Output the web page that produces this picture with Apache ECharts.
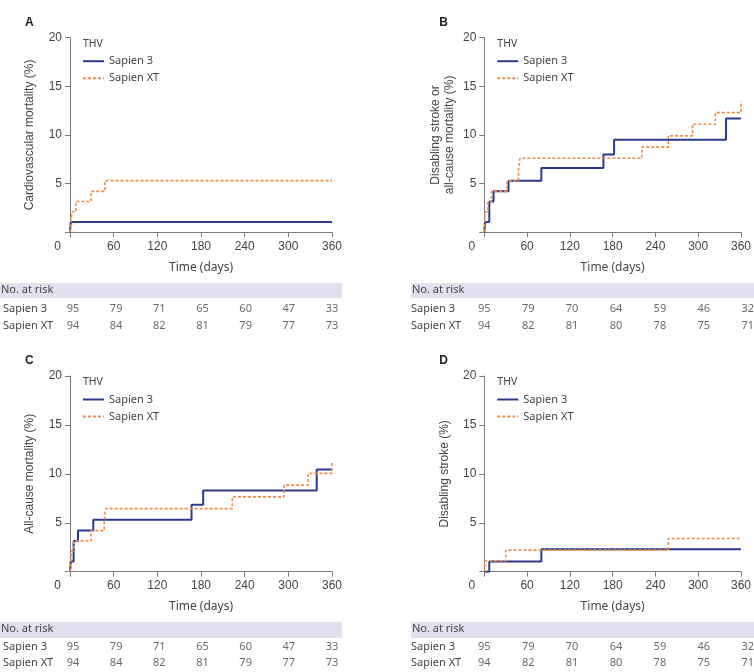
<!DOCTYPE html>
<html>
<head>
<meta charset="utf-8">
<script src="https://cdn.jsdelivr.net/npm/echarts@6/dist/echarts.min.js"></script>
<style>
  html, body { margin: 0; padding: 0; background: #fff; }
  #chart { width: 754px; height: 672px; }
</style>
</head>
<body>
<div id="chart"></div>
<script>
// 数据：时间刻度、组名、各面板的阶梯曲线（事件时间, 累积率 %）
const timeTicks = [0, 60, 120, 180, 240, 300, 360];
const groups = ['Sapien 3', 'Sapien XT'];
const panelLetters = ['A', 'B', 'C', 'D'];
const yNames = [
  'Cardiovascular mortality (%)',
  'Disabling stroke or\nall-cause mortality (%)',
  'All-cause mortality (%)',
  'Disabling stroke (%)'
];

const cvS3 = [[0, 0], [1, 1.05], [360, 1.05]];
const cvXT = [[0, 0], [1, 1.05], [3, 2.1], [8, 3.15], [29, 4.2], [48, 5.3], [360, 5.3]];

const strokeDeathS3 = [[0, 0], [1, 1.05], [7, 3.15], [13, 4.2], [34, 5.3], [80, 6.6], [167, 8.0], [182, 9.5], [339, 11.7], [360, 11.7]];
const strokeDeathXT = [[0, 0], [1, 2.1], [5, 3.15], [10, 4.2], [32, 5.3], [48, 6.4], [50, 7.6], [221, 8.75], [258, 9.9], [292, 11.1], [324, 12.3], [360, 13.5]];

const deathS3 = [[0, 0], [1, 1.05], [5, 3.15], [11, 4.2], [32, 5.3], [167, 6.85], [183, 8.3], [339, 10.45], [360, 10.45]];
const deathXT = [[0, 0], [1, 1.05], [2, 2.1], [5, 3.15], [29, 4.2], [47, 5.3], [49, 6.45], [223, 7.65], [294, 8.85], [327, 10.05], [360, 11.3]];

const strokeS3 = [[0, 0], [7, 1.05], [80, 2.3], [360, 2.3]];
const strokeXT = [[0, 0], [1, 1.1], [30, 2.2], [258, 3.4], [360, 3.4]];

// 风险人数表
const riskS3_AC = [95, 79, 71, 65, 60, 47, 33];
const riskXT_AC = [94, 84, 82, 81, 79, 77, 73];
const riskS3_BD = [95, 79, 70, 64, 59, 46, 32];
const riskXT_BD = [94, 82, 81, 80, 78, 75, 71];

const curves = [[cvS3, cvXT], [strokeDeathS3, strokeDeathXT], [deathS3, deathXT], [strokeS3, strokeXT]];
const risks = [[riskS3_AC, riskXT_AC], [riskS3_BD, riskXT_BD], [riskS3_AC, riskXT_AC], [riskS3_BD, riskXT_BD]];

// 布局
const cols = [{ left: 70, width: 262, bandX: 0, bandW: 342 }, { left: 484.3, width: 263.4, bandX: 411, bandW: 343 }];
const rows = [{ top: 37.7, height: 194.5, riskTop: 300, riskH: 34, bandY: 283, bandH: 15 },
              { top: 376, height: 195.7, riskTop: 639, riskH: 32, bandY: 622, bandH: 16 }];

const colorS3 = '#2c3a8e';
const colorXT = '#f08d45';
const axisColor = '#7a7a7a';
const textColor = '#444';
const mainFont = 'Liberation Sans';
const tableFont = 'Noto Sans';

let grid = [], xAxis = [], yAxis = [], series = [], legend = [], graphic = [];

for (let p = 0; p < 4; p++) {
  let c = cols[p % 2];
  let r = rows[Math.floor(p / 2)];
  let gi = p * 2;

  // 主图
  grid.push({ left: c.left, top: r.top, width: c.width, height: r.height });
  xAxis.push({
    gridIndex: gi, type: 'value', min: 0, max: 360, interval: 60,
    name: 'Time (days)', nameLocation: 'middle', nameGap: 29,
    nameTextStyle: { fontFamily: tableFont, fontSize: 12, color: textColor },
    axisLine: { lineStyle: { color: axisColor } },
    axisTick: { length: 5, lineStyle: { color: axisColor } },
    splitLine: { show: false },
    axisLabel: {
      margin: 8, fontFamily: mainFont, fontSize: 12, color: textColor,
      formatter: v => v === 0 ? '{z|0}' : String(v),
      rich: { z: { padding: [0, 25, 0, 0], fontFamily: mainFont, fontSize: 12, color: textColor } }
    }
  });
  yAxis.push({
    gridIndex: gi, type: 'value', min: 0, max: 20, interval: 5,
    name: yNames[p], nameLocation: 'middle', nameGap: p === 1 ? 28 : 33, nameRotate: 90,
    nameTextStyle: { fontFamily: mainFont, fontSize: 12, color: textColor, lineHeight: 14 },
    axisLine: { show: true, lineStyle: { color: axisColor } },
    axisTick: { show: true, length: 5, lineStyle: { color: axisColor } },
    splitLine: { show: false },
    axisLabel: { margin: 8, fontFamily: mainFont, fontSize: 12, color: textColor, formatter: v => v === 0 ? '' : v }
  });
  series.push({
    name: groups[0], type: 'line', step: 'end', xAxisIndex: gi, yAxisIndex: gi,
    data: curves[p][0], symbol: 'none', z: 3,
    lineStyle: { color: colorS3, width: 2 }, itemStyle: { color: colorS3 }
  });
  series.push({
    name: groups[1], type: 'line', step: 'end', xAxisIndex: gi, yAxisIndex: gi,
    data: curves[p][1], symbol: 'none', z: 4,
    lineStyle: { color: colorXT, width: 1.6, type: [3, 2] }, itemStyle: { color: colorXT }
  });
  legend.push({
    data: groups, orient: 'vertical', left: c.left + 12, top: r.top + 18, padding: 0,
    itemWidth: 21, itemHeight: 10, itemGap: 6, selectedMode: false,
    itemStyle: { opacity: 0 },
    textStyle: { fontFamily: tableFont, fontSize: 11, color: textColor }
  });

  // 风险表
  grid.push({ left: c.left, top: r.riskTop, width: c.width, height: r.riskH });
  xAxis.push({ gridIndex: gi + 1, type: 'value', min: 0, max: 360, show: false });
  yAxis.push({
    gridIndex: gi + 1, type: 'category', data: groups, inverse: true,
    axisLine: { show: false }, axisTick: { show: false }, splitLine: { show: false },
    axisLabel: { align: 'left', margin: c.left - c.bandX, fontFamily: tableFont, fontSize: 11, color: textColor }
  });
  for (let g = 0; g < 2; g++) {
    series.push({
      type: 'scatter', xAxisIndex: gi + 1, yAxisIndex: gi + 1, symbolSize: 1,
      itemStyle: { color: 'rgba(0,0,0,0)' },
      data: timeTicks.map((t, i) => [t, g, risks[p][g][i]]),
      label: {
        show: true, position: 'inside', formatter: d => d.value[2],
        fontFamily: tableFont, fontSize: 11, color: textColor
      }
    });
  }

  graphic.push({
    type: 'rect', left: c.bandX, top: r.bandY, z: -1,
    shape: { width: c.bandW, height: r.bandH }, style: { fill: '#e0e0ee' }
  });
  graphic.push({
    type: 'text', left: c.bandX + 1, top: r.bandY + 1,
    style: { text: 'No. at risk', font: '11px "Noto Sans"', fill: textColor }
  });
  graphic.push({
    type: 'text', left: c.left - 45, top: r.top - 21,
    style: { text: panelLetters[p], font: 'bold 12px "Liberation Sans"', fill: '#222' }
  });
  graphic.push({
    type: 'text', left: c.left + 13, top: r.top + 1,
    style: { text: 'THV', font: '10.5px "Noto Sans"', fill: textColor }
  });
}

let chart = echarts.init(document.getElementById('chart'));
chart.setOption({
  animation: false,
  grid: grid,
  xAxis: xAxis,
  yAxis: yAxis,
  legend: legend,
  graphic: graphic,
  series: series
});
</script>
</body>
</html>
